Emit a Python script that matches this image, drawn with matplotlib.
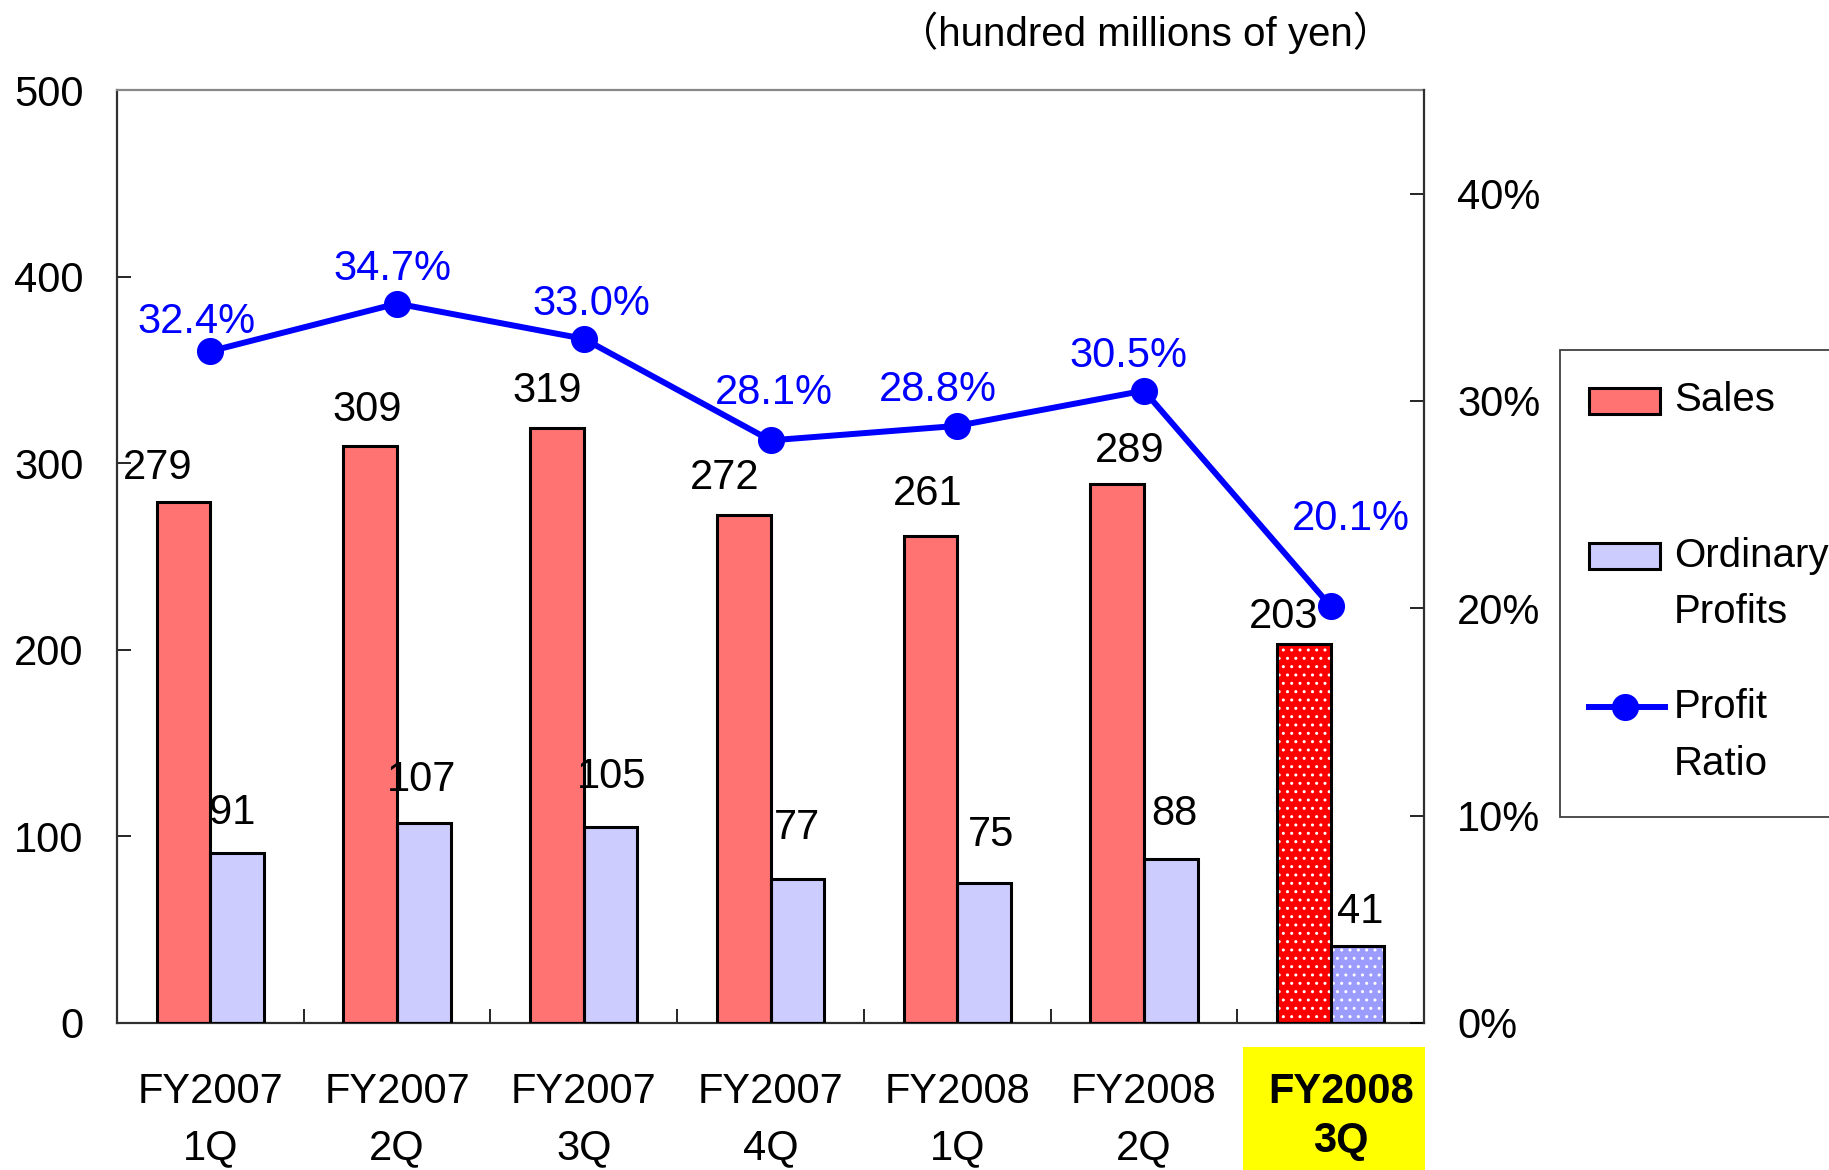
import numpy as np
import matplotlib
matplotlib.use("Agg")
import matplotlib.pyplot as plt
import matplotlib.transforms as mtransforms
from matplotlib.patches import Rectangle
from matplotlib.lines import Line2D
from matplotlib import font_manager

# ---- data (hundred millions of yen) ----
periods = ["FY2007\n1Q", "FY2007\n2Q", "FY2007\n3Q", "FY2007\n4Q",
           "FY2008\n1Q", "FY2008\n2Q", "FY2008\n3Q"]
sales = [279, 309, 319, 272, 261, 289, 203]
ordinary_profits = [91, 107, 105, 77, 75, 88, 41]
profit_ratio = [32.4, 34.7, 33.0, 28.1, 28.8, 30.5, 20.1]

# label nudges in pixels (dx, dy) relative to the mark they describe
sales_nudge = [(-26, 34), (-3, 36), (-10, 37), (-19, 37), (-3, 42), (13, 33), (-20, 27)]
profit_nudge = [(-5, 40), (-2, 43), (1, 50), (0, 51), (7, 48), (4, 45), (3, 34)]
ratio_nudge = [(-14, 29), (-5, 35), (8, 35), (3, 47), (-19, 36), (-15, 35), (20, 87)]

names = {f.name for f in font_manager.fontManager.ttflist}
if "Liberation Sans Narrow" in names:
    base, FS = "Liberation Sans Narrow", 32
else:
    base, FS = "Liberation Sans", 30
plt.rcParams["font.family"] = [base, "Noto Sans CJK JP", "DejaVu Sans"]

W, H = 1829, 1170
fig = plt.figure(figsize=(W / 100, H / 100), dpi=100)
ax = fig.add_axes([117 / W, 1 - 1023 / H, (1424 - 117) / W, (1023 - 90) / H])

n = len(sales)
x = np.arange(n)
w = 0.287

sales_fc = ["#FF7373"] * (n - 1) + ["#FF0000"]
profit_fc = ["#CCCCFF"] * (n - 1) + ["#9C9CFF"]

# filled bodies (white dotted texture on the latest quarter)
sb = ax.bar(x - w / 2, sales, w, color=sales_fc, edgecolor="white", linewidth=0, zorder=2)
pb = ax.bar(x + w / 2, ordinary_profits, w, color=profit_fc, edgecolor="white", linewidth=0, zorder=2)
sb[-1].set_hatch("..")
pb[-1].set_hatch("..")
# black outlines
ax.bar(x - w / 2, sales, w, fill=False, edgecolor="black", linewidth=2.2, zorder=3)
ax.bar(x + w / 2, ordinary_profits, w, fill=False, edgecolor="black", linewidth=2.2, zorder=3)

ax.set_xlim(-0.5, n - 0.5)
ax.set_ylim(0, 500)
ax.set_yticks(range(0, 501, 100))
ax.tick_params(axis="y", direction="in", length=10, width=1.2, pad=24, labelsize=FS)
ax.set_xticks(x)
ax.set_xticklabels(periods, fontsize=FS, linespacing=1.55)
ax.tick_params(axis="x", which="major", length=0, pad=35)
ax.set_xticks(np.arange(0.5, n - 1, 1), minor=True)
ax.tick_params(axis="x", which="minor", direction="in", length=10, width=1.2)
last = ax.get_xticklabels()[-1]
last.set_fontweight("bold")
last.set_family(["Liberation Sans", "DejaVu Sans"])
last.set_linespacing(1.3)
last.set_zorder(5)
last.set_transform(last.get_transform() +
                   mtransforms.ScaledTranslation(10 / 100, 0, fig.dpi_scale_trans))

for side in ["left", "bottom"]:
    ax.spines[side].set_color("#303030")
    ax.spines[side].set_linewidth(1.6)
ax.spines["top"].set_color("#888888")
ax.spines["top"].set_linewidth(1.6)
ax.spines["right"].set_visible(False)

# highlight box behind the latest quarter label
hl = mtransforms.blended_transform_factory(ax.transData, fig.transFigure)
fig.patches.append(Rectangle((5.53, 0), 0.975, (H - 1047) / H, transform=hl,
                             facecolor="#FFFF00", edgecolor="none", zorder=-5))

# value labels on bars
for i in range(n):
    ax.annotate(str(sales[i]), (x[i] - w / 2, sales[i]), xytext=sales_nudge[i],
                textcoords="offset pixels", ha="center", va="center", fontsize=FS, zorder=5)
    ax.annotate(str(ordinary_profits[i]), (x[i] + w / 2, ordinary_profits[i]),
                xytext=profit_nudge[i], textcoords="offset pixels",
                ha="center", va="center", fontsize=FS, zorder=5)

# profit ratio on the secondary axis
ax2 = ax.twinx()
ax2.plot(x, profit_ratio, color="#0000FF", linewidth=4.3, marker="o",
         markersize=18.5, zorder=4)
ax2.set_ylim(0, 45)
ax2.set_yticks([0, 10, 20, 30, 40])
ax2.set_yticklabels([f"{v}%" for v in [0, 10, 20, 30, 40]])
ax2.tick_params(axis="y", direction="in", length=10, width=1.2, pad=24, labelsize=FS)
for side in ["left", "top", "bottom"]:
    ax2.spines[side].set_visible(False)
ax2.spines["right"].set_color("#303030")
ax2.spines["right"].set_linewidth(1.6)
for i in range(n):
    ax2.annotate(f"{profit_ratio[i]:.1f}%", (x[i], profit_ratio[i]), xytext=ratio_nudge[i],
                 textcoords="offset pixels", ha="center", va="center",
                 fontsize=FS, color="#0000FF", zorder=6)

# unit note
fig.text(1393 / W, 1 - 33 / H, "（hundred millions of yen）", ha="right", va="center",
         fontsize=FS - 1, family=[base, "Noto Sans CJK JP", "DejaVu Sans"])

# legend panel
ft = fig.transFigure
def fx(px):
    return px / W
def fy(py):
    return 1 - py / H

fig.patches.append(Rectangle((fx(1560), fy(817)), fx(1850) - fx(1560), fy(350) - fy(817),
                             transform=ft, facecolor="white", edgecolor="#404040",
                             linewidth=1.3, zorder=1))
fig.patches.append(Rectangle((fx(1589), fy(414)), fx(1660) - fx(1589), fy(388) - fy(414),
                             transform=ft, facecolor=sales_fc[0], edgecolor="black",
                             linewidth=2.2, zorder=2))
fig.patches.append(Rectangle((fx(1589), fy(569)), fx(1660) - fx(1589), fy(543) - fy(569),
                             transform=ft, facecolor=profit_fc[0], edgecolor="black",
                             linewidth=2.2, zorder=2))
fig.lines.append(Line2D([fx(1589), fx(1665)], [fy(707), fy(707)], transform=ft,
                        color="#0000FF", linewidth=4.3, zorder=2))
fig.lines.append(Line2D([fx(1625)], [fy(707)], transform=ft, color="#0000FF",
                        marker="o", markersize=18.5, zorder=3))
for label, ypx in [("Sales", 400), ("Ordinary", 556), ("Profits", 612),
                   ("Profit", 707), ("Ratio", 764)]:
    fig.text(fx(1674), fy(ypx), label, ha="left", va="center", fontsize=FS - 1, zorder=4)

fig.savefig("out.png", dpi=100)
